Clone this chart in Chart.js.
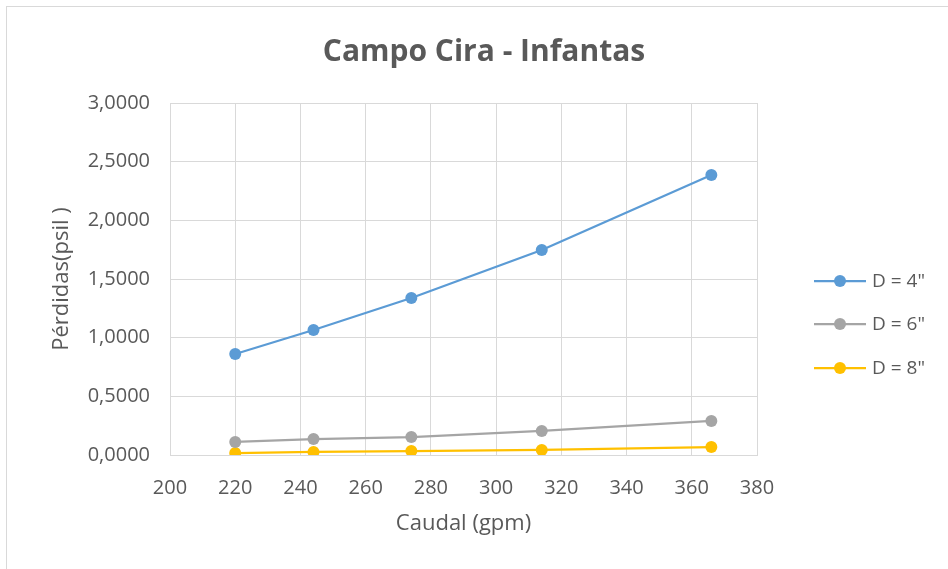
<!DOCTYPE html>
<html>
<head>
<meta charset="utf-8">
<script src="https://cdn.jsdelivr.net/npm/chart.js@4/dist/chart.umd.min.js"></script>
<style>
  html, body { margin: 0; padding: 0; background: #fff; }
  #wrap { width: 948px; height: 569px; }
</style>
</head>
<body>
<div id="wrap"><canvas id="chart" width="948" height="569"></canvas></div>
<script>
// Caudal (gpm)
const caudal = [220, 244, 274, 314, 366];
// Pérdidas (psi) per diameter
const d4 = [0.861, 1.065, 1.338, 1.747, 2.386];
const d6 = [0.111, 0.136, 0.153, 0.205, 0.290];
const d8 = [0.017, 0.026, 0.034, 0.043, 0.068];
const seriesNames = ['D = 4"', 'D = 6"', 'D = 8"'];
const seriesColors = ["#5b9bd5", "#a5a5a5", "#ffc000"];

const FONT = "'Open Sans', 'Liberation Sans', sans-serif";
const TEXT = "#595959";
const GRID = "#d9d9d9";

const toPts = ys => caudal.map((x, i) => ({ x: x, y: ys[i] }));

// frame, title and line+marker legend drawn on canvas
const decorPlugin = {
  id: "decor",
  beforeDraw(chart) {
    const ctx = chart.ctx;
    ctx.save();
    ctx.strokeStyle = GRID;
    ctx.lineWidth = 1;
    ctx.strokeRect(6.5, 6.5, 960, 600);
    ctx.restore();
  },
  afterDraw(chart) {
    const ctx = chart.ctx;
    ctx.save();
    ctx.fillStyle = TEXT;
    ctx.font = "bold 30px " + FONT;
    ctx.textAlign = "center";
    ctx.textBaseline = "middle";
    ctx.fillText("Campo Cira - Infantas", 484, 52);

    const rows = [281, 324, 368];
    ctx.font = "19px " + FONT;
    ctx.textAlign = "left";
    chart.data.datasets.forEach((ds, i) => {
      const y = rows[i];
      ctx.strokeStyle = ds.borderColor;
      ctx.lineWidth = 2.25;
      ctx.beginPath();
      ctx.moveTo(814, y);
      ctx.lineTo(866, y);
      ctx.stroke();
      ctx.fillStyle = ds.borderColor;
      ctx.beginPath();
      ctx.arc(840, y, 6, 0, Math.PI * 2);
      ctx.fill();
      ctx.fillStyle = TEXT;
      ctx.fillText(ds.label, 872, y + 1);
    });
    ctx.restore();
  }
};

new Chart(document.getElementById("chart"), {
  type: "line",
  data: {
    datasets: [d4, d6, d8].map((ys, i) => ({
      label: seriesNames[i],
      data: toPts(ys),
      borderColor: seriesColors[i],
      backgroundColor: seriesColors[i],
      borderWidth: 2.25,
      pointRadius: 6,
      pointBorderWidth: 0,
      tension: 0
    }))
  },
  options: {
    responsive: false,
    animation: false,
    layout: { padding: { top: 103, right: 191, bottom: 0, left: 0 } },
    plugins: { legend: { display: false }, tooltip: { enabled: false }, title: { display: false } },
    scales: {
      x: {
        type: "linear",
        min: 200,
        max: 380,
        ticks: { stepSize: 20, color: TEXT, font: { family: FONT, size: 20 }, padding: 21 },
        grid: { color: GRID, drawTicks: false },
        border: { color: GRID },
        title: { display: true, text: "Caudal (gpm)", color: TEXT, font: { family: FONT, size: 22 }, padding: { bottom: 32 } },
        afterFit(s) { s.height = 114; }
      },
      y: {
        min: 0,
        max: 3,
        ticks: {
          stepSize: 0.5,
          color: TEXT,
          font: { family: FONT, size: 20 },
          padding: 20,
          callback: v => v.toFixed(4).replace(".", ",")
        },
        grid: { color: GRID, drawTicks: false },
        border: { color: GRID },
        title: { display: true, text: "Pérdidas(psil )", color: TEXT, font: { family: FONT, size: 22 }, padding: { top: 49 } },
        afterFit(s) { s.width = 170; }
      }
    }
  },
  plugins: [decorPlugin]
});
</script>
</body>
</html>
